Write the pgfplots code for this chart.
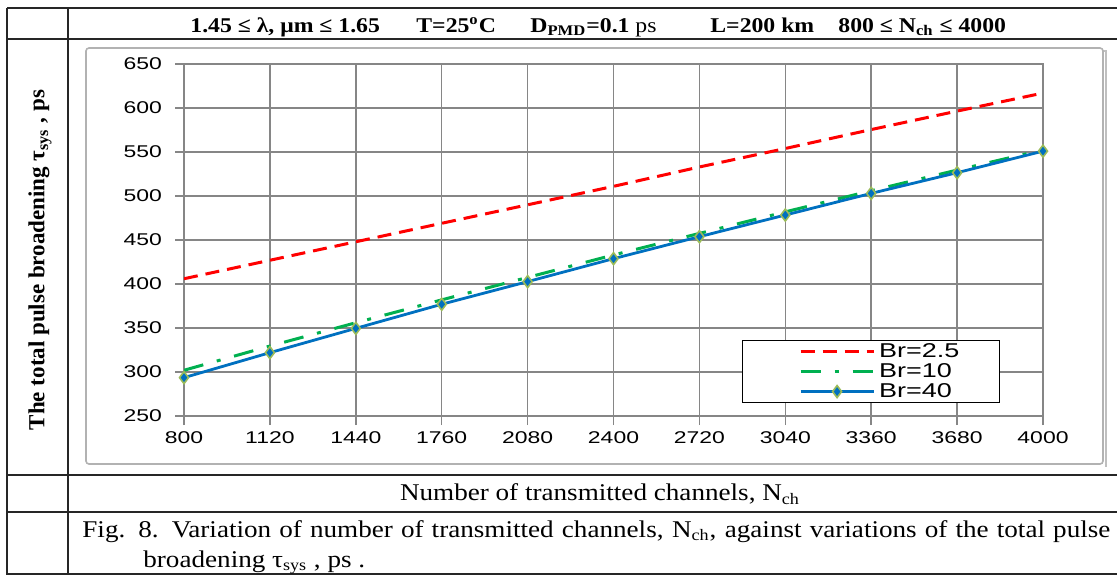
\documentclass[border=0pt]{standalone}
\usepackage{pgfplots}
\pgfplotsset{compat=1.18}
\usepackage{fontspec}
\setmainfont{Liberation Serif}
\setsansfont{Liberation Sans}
\newfontfamily\tickfont[FakeStretch=1.35]{Liberation Sans}
\newfontfamily\widefont[FakeStretch=1.13]{Liberation Serif}

\definecolor{gridgray}{RGB}{134,134,134}
\definecolor{exred}{RGB}{255,0,0}
\definecolor{exgreen}{RGB}{0,176,80}
\definecolor{exblue}{RGB}{0,112,192}
\definecolor{mkedge}{RGB}{155,187,89}

% N_ch, total pulse broadening (ps) for Br = 2.5, 10, 40
\pgfplotstableread{
n     br25   br10   br40
800   406    302    293.6
1120  427    329.5  322
1440  448    356    349.6
1760  469    382    377
2080  490    407.5  402.7
2400  511    433    428.8
2720  533    457.5  453.8
3040  554    482    478.4
3360  575.5  506    503
3680  596.5  529.5  526.5
4000  617    552.5  551
}\pulsedata

\begin{document}
\begin{tikzpicture}[x=0.5pt,y=-0.5pt]
\useasboundingbox (0,0) rectangle (1117,575);

% table rules
\begin{scope}[line width=1pt, black!85]
  \draw (7,8) -- (1117,8);
  \draw (7,39) -- (1117,39);
  \draw (7,475) -- (1117,475);
  \draw (7,512) -- (1117,512);
  \draw (7,574) -- (1117,574);
  \draw (7,8) -- (7,575);
  \draw (68,8) -- (68,575);
\end{scope}

% chart area frame
\draw[black!25, line width=1.2pt] (89,51) -- (1106,51) -- (1106,467);
\draw[black!30, line width=0.8pt, rounded corners=1.5pt, fill=white] (86,48) rectangle (1103,464);

% title row
\begin{scope}[font=\widefont\fontsize{10.5}{12}\selectfont\bfseries]
  \node[anchor=base west, inner sep=0] at (190,32) {1.45 ≤ λ, μm ≤ 1.65};
  \node[anchor=base west, inner sep=0] at (416,32) {T=25\textsuperscript{o}C};
  \node[anchor=base west, inner sep=0] at (530,32) {D\textsubscript{PMD}=0.1 \mdseries ps};
  \node[anchor=base west, inner sep=0] at (710,32) {L=200 km};
  \node[anchor=base west, inner sep=0] at (838,32) {800 ≤ N\textsubscript{ch} ≤ 4000};
\end{scope}

% y label
\node[rotate=90, font=\fontsize{11.5}{13}\selectfont\bfseries] at (40,260)
  {The total pulse broadening τ\textsubscript{sys} , ps};

% x label row
\node[font=\widefont\fontsize{12}{14}\selectfont] at (600,494)
  {Number of transmitted channels, N\textsubscript{ch}};

% caption
\node[anchor=base west, inner sep=0, font=\widefont\fontsize{12}{14}\selectfont] at (82,537)
  {\makebox[514pt][s]{Fig. 8. Variation of number of transmitted channels, N\textsubscript{ch}, against variations of the total pulse}};
\node[anchor=base west, inner sep=0, font=\widefont\fontsize{12}{14}\selectfont] at (143,567)
  {broadening τ\textsubscript{sys} , ps .};

\begin{axis}[
  at={(92pt,-208pt)}, anchor=south west,
  scale only axis, width=429.5pt, height=176pt,
  xmin=800, xmax=4000, ymin=250, ymax=650,
  xtick={800,1120,...,4000}, ytick={250,300,...,650},
  grid=major, major grid style={gridgray, line width=0.75pt},
  axis line style={gridgray, line width=0.75pt},
  tick style={gridgray, line width=0.75pt},
  tick pos=left, tick align=outside, major tick length=4.5pt,
  ticklabel style={font=\tickfont\fontsize{8.5}{10}\selectfont},
  yticklabel style={xshift=-3pt},
  /pgf/number format/assume math mode=true,
  /pgf/number format/1000 sep={},
  legend cell align=left,
  legend style={at={(0.6496,0.216)}, anchor=north west, draw=black, line width=0.6pt,
    font=\tickfont\fontsize{10}{11}\selectfont, inner xsep=18pt, inner ysep=0.5pt,
    row sep=0pt,
    nodes={inner ysep=1pt, text height=7pt, text depth=1pt}},
  legend image code/.code={%
    \begin{scope}[x=1pt,y=1pt]
    \path[draw=none, fill=none] (0,0) -- (47.5,0);
    \draw[#1, mark=none] (11,0) -- (47.5,0);
    \draw[#1] plot coordinates {(29.25,0)};
    \end{scope}},
]
\addplot[exred, line width=1.5pt, dash pattern=on 7pt off 4pt] table[x=n,y=br25]{\pulsedata};
\addlegendentry{Br=2.5}
\addplot[exgreen, line width=1.5pt, dash pattern=on 10pt off 7pt on 2pt off 7pt] table[x=n,y=br10]{\pulsedata};
\addlegendentry{Br=10}
\addplot[exblue, line width=1.4pt, mark=diamond*, mark size=3pt,
  mark options={fill=exblue, draw=mkedge, line width=0.8pt, solid}] table[x=n,y=br40]{\pulsedata};
\addlegendentry{Br=40}
\end{axis}
\end{tikzpicture}
\end{document}
